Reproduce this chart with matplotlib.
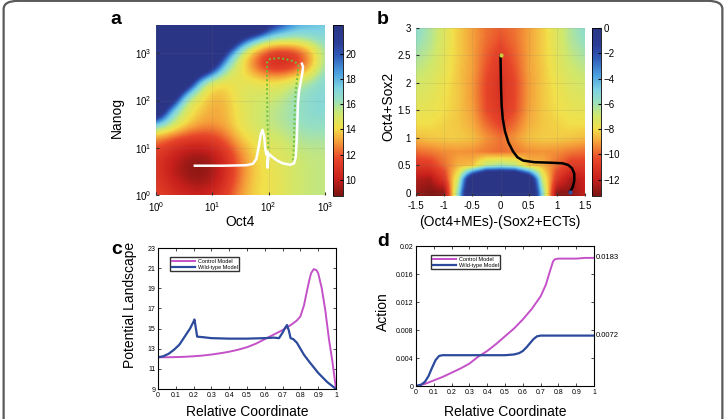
import matplotlib

matplotlib.use("Agg")

import matplotlib.pyplot as plt
import numpy as np
from matplotlib.colors import LinearSegmentedColormap
from matplotlib.patches import FancyBboxPatch

plt.rcParams["font.family"] = ["Liberation Sans", "DejaVu Sans"]
plt.rcParams["mathtext.fontset"] = "custom"
plt.rcParams["mathtext.rm"] = "Liberation Sans"

# ---- panel a: potential landscape over log10(Oct4), log10(Nanog) ----
a_log_oct4 = [0, 0.25, 0.5, 0.75, 1.0, 1.25, 1.5, 1.75, 2.0, 2.25, 2.5, 2.75, 3.0]
a_log_nanog = [3.6, 3.3, 3.0, 2.7, 2.4, 2.1, 1.8, 1.5, 1.2, 0.9, 0.6, 0.3, 0.0]
a_landscape = [
    [28, 28, 28, 28, 28, 28, 28, 30, 22.5, 20.5, 18.5, 18, 17.5],
    [28, 28, 28, 28, 28, 28, 22, 18, 16.5, 16, 16, 16.5, 17],
    [28, 28, 28, 28, 28, 20.5, 15, 12.8, 11, 10.6, 11.2, 13, 16],
    [28, 28, 28, 28, 23, 16, 14.5, 12.3, 10.6, 10.5, 11.2, 13.2, 16.3],
    [28, 28, 28, 17.5, 14.3, 14.3, 14.5, 14.5, 14.3, 14.3, 15.3, 16, 17],
    [28, 28, 16.5, 14.8, 13.4, 13.6, 14.8, 15, 15, 15.5, 16.3, 16.8, 17],
    [28, 17.5, 15, 13.8, 13.2, 13.4, 14.5, 15, 15.5, 15.8, 16.3, 16.8, 17],
    [17.5, 16, 14.3, 13.3, 13.0, 13.4, 14.5, 15, 15.5, 15.8, 16.3, 16.5, 16.5],
    [12.8, 12.0, 11.4, 11.2, 11.4, 12.3, 13.8, 14.5, 15, 15.2, 15.8, 16, 16],
    [11.3, 10.5, 9.8, 9.5, 9.9, 11.0, 12.7, 14, 14.5, 14.8, 15.3, 15.5, 15.5],
    [11.0, 10.0, 9.2, 8.8, 9.3, 10.6, 12.4, 13.8, 14.4, 14.7, 15.2, 15.4, 15.5],
    [11.2, 10.3, 9.6, 9.2, 9.6, 10.8, 12.6, 13.9, 14.3, 14.6, 15.2, 15.4, 15.5],
    [11.6, 11.0, 10.5, 10.2, 10.5, 11.5, 13.0, 14.0, 14.3, 14.6, 15.2, 15.4, 15.5],
]
a_ticks = [0, 1, 2, 3]
a_tick_labels = [r"$\mathregular{10^{%d}}$" % t for t in a_ticks]
a_cbar_ticks = [10, 12, 14, 16, 18, 20]

# paths (log10 units)
white_oct4 = [0.69, 1.2, 1.6, 1.72, 1.78, 1.82, 1.86, 1.89, 1.92, 1.94, 1.96, 1.97, 1.98, 1.98,
              2.0, 2.05, 2.15, 2.25, 2.38, 2.45, 2.48, 2.5, 2.51, 2.52, 2.54, 2.57, 2.6, 2.61, 2.59]
white_nanog = [0.62, 0.62, 0.63, 0.66, 0.76, 1.0, 1.28, 1.38, 1.25, 0.97, 0.86, 0.85, 0.92, 0.58,
               0.88, 0.82, 0.73, 0.67, 0.64, 0.67, 0.8, 1.2, 1.6, 1.95, 2.2, 2.4, 2.6, 2.72, 2.78]
green_oct4 = [2.0, 1.98, 1.97, 1.97, 2.0, 2.15, 2.3, 2.45, 2.53, 2.51, 2.48, 2.46, 2.45, 2.44, 2.42, 2.38]
green_nanog = [0.8, 1.5, 2.2, 2.8, 2.87, 2.9, 2.88, 2.83, 2.76, 2.5, 2.2, 1.7, 1.2, 0.8, 0.66, 0.64]

# ---- panel b: landscape over (Oct4+MEs)-(Sox2+ECTs), Oct4+Sox2 ----
b_x = [-1.5, -1.25, -1.0, -0.75, -0.5, -0.25, 0, 0.25, 0.5, 0.75, 1.0, 1.25, 1.5]
b_y = [3.0, 2.75, 2.5, 2.25, 2.0, 1.75, 1.5, 1.25, 1.0, 0.75, 0.5, 0.25, 0.0]
b_landscape = [
    [-5.5, -6.3, -7.3, -8.3, -9.0, -9.7, -10.0, -9.7, -9.0, -8.3, -7.3, -6.3, -5.5],
    [-5.8, -6.4, -7.4, -8.3, -9.0, -9.8, -10.3, -9.8, -9.0, -8.3, -7.4, -6.4, -5.8],
    [-6.2, -6.7, -7.5, -8.3, -9.0, -10.0, -10.7, -10.0, -9.0, -8.3, -7.5, -6.7, -6.2],
    [-6.6, -7.0, -7.6, -8.4, -9.0, -10.2, -11.0, -10.2, -9.0, -8.4, -7.6, -7.0, -6.6],
    [-7.0, -7.3, -7.8, -8.4, -9.1, -10.4, -11.2, -10.4, -9.1, -8.4, -7.8, -7.3, -7.0],
    [-7.3, -7.5, -7.9, -8.4, -9.1, -10.4, -11.2, -10.4, -9.1, -8.4, -7.9, -7.5, -7.3],
    [-7.6, -7.7, -8.0, -8.4, -9.0, -10.3, -11.0, -10.3, -9.0, -8.4, -8.0, -7.7, -7.6],
    [-8.0, -8.0, -8.2, -8.4, -8.8, -9.8, -10.5, -9.8, -8.8, -8.4, -8.2, -8.0, -8.0],
    [-8.6, -8.4, -8.3, -8.3, -8.5, -9.2, -9.7, -9.2, -8.5, -8.3, -8.3, -8.4, -8.6],
    [-9.8, -9.6, -9.3, -9.2, -9.3, -9.6, -9.8, -9.6, -9.3, -9.2, -9.3, -9.6, -9.8],
    [-11.0, -10.8, -9.8, -8.7, -8.5, -6.5, -6.0, -6.5, -8.5, -8.7, -9.8, -10.8, -10.8],
    [-12.3, -12.5, -11.0, -7.0, 2.0, 6.0, 6.0, 6.0, 2.0, -7.0, -11.0, -12.5, -11.8],
    [-12.8, -13.2, -13.0, -5.5, 4.0, 7.0, 7.0, 7.0, 4.0, -5.5, -13.0, -13.0, -12.0],
]
b_xticks = [-1.5, -1, -0.5, 0, 0.5, 1, 1.5]
b_xtick_labels = ["-1.5", "-1", "-0.5", "0", "0.5", "1", "1.5"]
b_yticks = [0, 0.5, 1, 1.5, 2, 2.5, 3]
b_ytick_labels = ["0", "0.5", "1", "1.5", "2", "2.5", "3"]
b_cbar_ticks = [0, -2, -4, -6, -8, -10, -12]

path_b_x = [0, 0.005, 0.01, 0.02, 0.04, 0.08, 0.14, 0.22, 0.3, 0.4, 0.6, 0.9, 1.1, 1.2,
            1.27, 1.31, 1.31, 1.28, 1.23]
path_b_y = [2.5, 2.2, 1.9, 1.6, 1.35, 1.12, 0.92, 0.76, 0.65, 0.59, 0.56, 0.55, 0.54, 0.51,
            0.45, 0.35, 0.22, 0.1, 0.02]

# ---- panel c: potential landscape along path ----
c_ctrl_x = [0, 0.05, 0.1, 0.15, 0.2, 0.25, 0.3, 0.35, 0.4, 0.45, 0.5, 0.55, 0.6, 0.65, 0.7,
            0.75, 0.78, 0.8, 0.82, 0.84, 0.85, 0.86, 0.875, 0.89, 0.9, 0.92, 0.94, 0.96, 0.98, 1.0]
c_ctrl_y = [12.15, 12.15, 12.17, 12.2, 12.25, 12.32, 12.42, 12.55, 12.7, 12.9, 13.15, 13.5, 13.95,
            14.4, 14.85, 15.4, 15.8, 16.2, 17.3, 19.0, 19.8, 20.5, 20.9, 20.8, 20.5, 19.0, 16.8,
            14.0, 11.7, 9.0]
c_wt_x = [0, 0.03, 0.06, 0.09, 0.12, 0.15, 0.18, 0.2, 0.205, 0.22, 0.25, 0.3, 0.4, 0.5, 0.6,
          0.65, 0.68, 0.7, 0.715, 0.725, 0.735, 0.745, 0.76, 0.78, 0.8, 0.82, 0.85, 0.9, 0.95, 1.0]
c_wt_y = [12.15, 12.25, 12.5, 12.9, 13.4, 14.2, 15.0, 15.7, 15.9, 14.2, 14.15, 14.05, 14.0, 14.0,
          14.05, 14.1, 14.05, 14.6, 15.1, 15.35, 14.8, 14.05, 13.95, 13.6, 13.0, 12.4, 11.7, 10.6,
          9.7, 9.0]
c_xticks = [0, 0.1, 0.2, 0.3, 0.4, 0.5, 0.6, 0.7, 0.8, 0.9, 1]
c_xtick_labels = ["0", "0.1", "0.2", "0.3", "0.4", "0.5", "0.6", "0.7", "0.8", "0.9", "1"]
c_yticks = [9, 11, 13, 15, 17, 19, 21, 23]

# ---- panel d: action along path ----
d_ctrl_x = [0, 0.05, 0.1, 0.15, 0.2, 0.25, 0.3, 0.35, 0.4, 0.45, 0.5, 0.55, 0.6, 0.65, 0.7,
            0.73, 0.75, 0.77, 0.78, 0.8, 0.85, 0.9, 0.95, 1.0]
d_ctrl_y = [0, 0.0003, 0.0008, 0.0013, 0.0019, 0.0025, 0.0032, 0.0042, 0.0050, 0.0060, 0.0071,
            0.0082, 0.0095, 0.0110, 0.0128, 0.0145, 0.0162, 0.0178, 0.0181, 0.0182, 0.0182,
            0.0182, 0.0183, 0.0183]
d_wt_x = [0, 0.03, 0.05, 0.07, 0.09, 0.11, 0.13, 0.15, 0.2, 0.3, 0.4, 0.5, 0.55, 0.58, 0.6,
          0.62, 0.64, 0.66, 0.68, 0.7, 0.8, 0.9, 1.0]
d_wt_y = [0, 0.0002, 0.0006, 0.0014, 0.0026, 0.0037, 0.0043, 0.0044, 0.0044, 0.0044, 0.0044,
          0.0044, 0.0045, 0.0047, 0.0050, 0.0055, 0.0061, 0.0067, 0.0071, 0.0072, 0.0072, 0.0072,
          0.0072]
d_yticks = [0, 0.004, 0.008, 0.012, 0.016, 0.02]
d_ytick_labels = ["0", "0.004", "0.008", "0.012", "0.016", "0.02"]
d_end_labels = ["0.0183", "0.0072"]

CTRL_COLOR = "#c451c8"
WT_COLOR = "#2c4a9c"
W, H = 726, 419

# washed-out jet, low = dark red, high = navy (as in the printed figure)
landscape_cmap = LinearSegmentedColormap.from_list("landscape", [
    (0.00, "#7a1512"), (0.10, "#c8201c"), (0.22, "#e8462a"), (0.32, "#f5a03a"),
    (0.40, "#f2e04a"), (0.48, "#cfe86e"), (0.56, "#98e0c0"), (0.63, "#7fd4e2"),
    (0.72, "#4aa0e0"), (0.82, "#2f5ab8"), (0.90, "#2b3d96"), (1.00, "#2b3585"),
])


def box(x0, y0, x1, y1):
    # pixel box (top-left origin) -> figure fraction rect
    return [x0 / W, 1 - y1 / H, (x1 - x0) / W, (y1 - y0) / H]


def node_extent(xs, ys):
    dx = (xs[-1] - xs[0]) / (len(xs) - 1) / 2
    dy = (ys[0] - ys[-1]) / (len(ys) - 1) / 2
    return (xs[0] - dx, xs[-1] + dx, min(ys) - dy, max(ys) + dy)


fig = plt.figure(figsize=(W / 100, H / 100), dpi=100)
fig.patches.append(FancyBboxPatch((0.005, -0.05), 0.99, 1.048, boxstyle="round,pad=0,rounding_size=0.02",
                                  transform=fig.transFigure, fc="none", ec="#5a5a5a", lw=1.6))

# panel a
ax_a = fig.add_axes(box(156, 25, 325, 195))
im_a = ax_a.imshow(np.array(a_landscape), cmap=landscape_cmap, vmin=8.7, vmax=22.3, origin="upper",
                   extent=node_extent(a_log_oct4, a_log_nanog), interpolation="bicubic", aspect="auto")
ax_a.plot(green_oct4, green_nanog, color="#6fc03a", lw=1.4, linestyle=(0, (1, 1.3)))
ax_a.plot(white_oct4, white_nanog, "-", color="white", lw=1.8)
ax_a.set_xlim(0, 3)
ax_a.set_ylim(0, 3.6)
ax_a.set_xticks(a_ticks)
ax_a.set_xticklabels(a_tick_labels)
ax_a.set_yticks(a_ticks)
ax_a.set_yticklabels(a_tick_labels)
ax_a.grid(color="#777777", alpha=0.15, lw=0.6)
ax_a.set_xlabel("Oct4", fontsize=10)
ax_a.set_ylabel("Nanog", fontsize=10)
ax_a.xaxis.set_label_coords(0.497, -0.159)
ax_a.yaxis.set_label_coords(-0.231, 0.453)

cax_a = fig.add_axes(box(333, 25, 343, 196))
cb_a = fig.colorbar(im_a, cax=cax_a, ticks=a_cbar_ticks)

# panel b
ax_b = fig.add_axes(box(416, 28, 585, 196))
im_b = ax_b.imshow(np.array(b_landscape), cmap=landscape_cmap, vmin=-13.3, vmax=0, origin="upper",
                   extent=node_extent(b_x, b_y), interpolation="bilinear", aspect="auto")
ax_b.plot(path_b_x, path_b_y, "-", color="black", lw=1.8)
ax_b.plot(path_b_x[0], path_b_y[0], "o", color="#c8d040", ms=2)
ax_b.plot(path_b_x[-1], path_b_y[-1], "o", color="#3050a0", ms=2)
ax_b.set_xlim(-1.5, 1.5)
ax_b.set_ylim(-0.055, 3)
ax_b.set_xticks(b_xticks)
ax_b.set_xticklabels(b_xtick_labels)
ax_b.set_yticks(b_yticks)
ax_b.set_yticklabels(b_ytick_labels)
ax_b.grid(color="#777777", alpha=0.15, lw=0.6)
ax_b.set_xlabel("(Oct4+MEs)-(Sox2+ECTs)", fontsize=10)
ax_b.set_ylabel("Oct4+Sox2", fontsize=10)
ax_b.xaxis.set_label_coords(0.497, -0.155)
ax_b.yaxis.set_label_coords(-0.166, 0.536)

cax_b = fig.add_axes(box(592, 28, 601, 196))
cb_b = fig.colorbar(im_b, cax=cax_b, ticks=b_cbar_ticks)

for ax in (ax_a, ax_b):
    for s in ax.spines.values():
        s.set_visible(False)
    ax.tick_params(direction="in", length=2.5, labelsize=7, color="#333333", pad=3.5)
for cb in (cb_a, cb_b):
    cb.ax.tick_params(direction="in", length=2.5, labelsize=7, pad=2)
    cb.outline.set_linewidth(0.6)

# panel c
ax_c = fig.add_axes(box(158, 248, 336, 389))
ax_c.plot(c_ctrl_x, c_ctrl_y, color=CTRL_COLOR, lw=1.4, label="Control Model")
ax_c.plot(c_wt_x, c_wt_y, color=WT_COLOR, lw=1.6, label="Wild-type Model")
ax_c.set_xlim(0, 1)
ax_c.set_ylim(9, 23)
ax_c.set_xticks(c_xticks)
ax_c.set_xticklabels(c_xtick_labels)
ax_c.set_yticks(c_yticks)
ax_c.set_xlabel("Relative Coordinate", fontsize=10)
ax_c.set_ylabel("Potential Landscape", fontsize=10)
ax_c.xaxis.set_label_coords(0.5, -0.163)
ax_c.yaxis.set_label_coords(-0.157, 0.596)
ax_c.legend(loc="upper left", bbox_to_anchor=(0.067, 0.936), borderaxespad=0, fontsize=4,
            frameon=True, fancybox=False, edgecolor="black", handlelength=4.2, borderpad=0.3,
            labelspacing=0.2, handletextpad=0.5)

# panel d
ax_d = fig.add_axes(box(416, 246, 594, 386))
ax_d.plot(d_ctrl_x, d_ctrl_y, color=CTRL_COLOR, lw=1.4, label="Control Model")
ax_d.plot(d_wt_x, d_wt_y, color=WT_COLOR, lw=1.6, label="Wild-type Model")
ax_d.set_xlim(0, 1)
ax_d.set_ylim(0, 0.02)
ax_d.set_xticks(c_xticks)
ax_d.set_xticklabels(c_xtick_labels)
ax_d.set_yticks(d_yticks)
ax_d.set_yticklabels(d_ytick_labels)
ax_d.set_xlabel("Relative Coordinate", fontsize=10)
ax_d.set_ylabel("Action", fontsize=10)
ax_d.xaxis.set_label_coords(0.5, -0.186)
ax_d.yaxis.set_label_coords(-0.185, 0.529)
ax_d.text(1.01, d_ctrl_y[-1], d_end_labels[0], transform=ax_d.get_yaxis_transform(),
          fontsize=5.5, va="center", ha="left")
ax_d.text(1.01, d_wt_y[-1], d_end_labels[1], transform=ax_d.get_yaxis_transform(),
          fontsize=5.5, va="center", ha="left")
ax_d.legend(loc="upper left", bbox_to_anchor=(0.084, 0.936), borderaxespad=0, fontsize=4,
            frameon=True, fancybox=False, edgecolor="black", handlelength=4.2, borderpad=0.3,
            labelspacing=0.2, handletextpad=0.5)

for ax in (ax_c, ax_d):
    ax.tick_params(direction="in", length=2, labelsize=5, top=True, right=True, pad=2, width=0.5)
    for s in ax.spines.values():
        s.set_linewidth(0.8)

for ax in (ax_a, ax_b, ax_c, ax_d):
    ax.xaxis.label.set_va("center")
    ax.yaxis.label.set_va("center")

fig.text(116 / W, 1 - 19 / H, "a", fontsize=14, fontweight="bold", ha="center", va="center")
fig.text(383 / W, 1 - 19 / H, "b", fontsize=14, fontweight="bold", ha="center", va="center")
fig.text(117 / W, 1 - 250 / H, "c", fontsize=14, fontweight="bold", ha="center", va="center")
fig.text(383 / W, 1 - 241 / H, "d", fontsize=14, fontweight="bold", ha="center", va="center")

fig.savefig("out.png", dpi=100)
